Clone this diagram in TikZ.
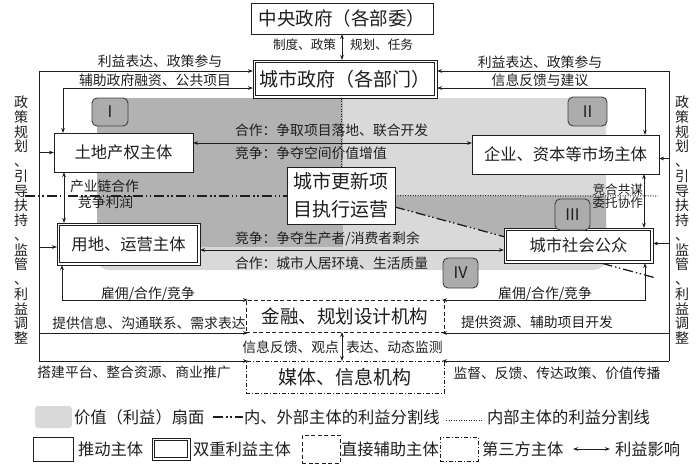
\documentclass[tikz,border=0pt]{standalone}
\usepackage{fontspec}
\setmainfont{Noto Sans CJK SC}
\usetikzlibrary{arrows.meta,calc,backgrounds}
\newcommand\myfs[1]{\fontsize{#1pt}{#1pt}\selectfont}
\definecolor{fanlight}{RGB}{217,217,217}
\definecolor{fandark}{RGB}{178,178,178}
\definecolor{numfill}{RGB}{172,172,172}
\definecolor{ink}{RGB}{30,30,30}
\begin{document}
\begin{tikzpicture}[x=1pt,y=-1pt,
  every node/.style={inner sep=0pt,outer sep=0pt,text=ink},
  >={Stealth[length=5pt,width=3.6pt]},
  lbl/.style={font={\myfs{13.8}}},
  slbl/.style={font={\myfs{12.6}}},
  lgtxt/.style={font={\myfs{16.3}}},
  vlbl/.style={align=center,font={\fontsize{14pt}{14.75pt}\selectfont}},
  bx/.style={draw=ink,line width=1pt,fill=white},
  dbx/.style={draw=ink,line width=0.9pt,fill=white,
    path picture={\draw[ink,line width=0.8pt]
      ([xshift=2.4pt,yshift=-2.4pt]path picture bounding box.north west) rectangle
      ([xshift=-2.4pt,yshift=2.4pt]path picture bounding box.south east);}},
  dshbx/.style={draw=ink,line width=0.9pt,dash pattern=on 4pt off 2.5pt,fill=white},
  ddbx/.style={draw=ink,line width=0.9pt,dash pattern=on 4pt off 2pt on 1pt off 2pt,fill=white},
  numbx/.style={draw=ink!85,line width=0.9pt,fill=numfill,rounded corners=5pt,font={\myfs{16}}},
  conn/.style={draw=ink,line width=0.9pt},
  divline/.style={draw=ink,line width=1.3pt,dash pattern=on 10pt off 3pt on 1.5pt off 2.5pt on 1.5pt off 3pt},
  dotline/.style={draw=ink,line width=1pt,dash pattern=on 1pt off 1.5pt}
]
\useasboundingbox (0,0) rectangle (700,469);

% ---------- main boxes ----------
\node[bx,minimum width=182pt,minimum height=31pt,font={\myfs{18.5}}] (cgov) at (342,18.5) {中央政府（各部委）};
\node[dbx,minimum width=184pt,minimum height=38pt,font={\myfs{19}}] (city) at (345,79) {城市政府（各部门）};
\node[bx,minimum width=139pt,minimum height=39pt,font={\myfs{16.3}}] (land) at (123.5,152.5) {土地产权主体};
\node[bx,minimum width=187pt,minimum height=39pt,font={\myfs{16.3}}] (ent) at (565.5,154.5) {企业、资本等市场主体};
\node[bx,minimum width=108pt,minimum height=57pt,align=center,font={\fontsize{19pt}{28pt}\selectfont}] (upd) at (341,195.5) {城市更新项\\目执行运营};
\node[dbx,minimum width=143pt,minimum height=42pt,font={\myfs{16.3}}] (use) at (128.5,244) {用地、运营主体};
\node[dbx,minimum width=149pt,minimum height=35pt,font={\myfs{16.3}}] (pub) at (578.5,245.5) {城市社会公众};
\node[dshbx,minimum width=198pt,minimum height=32pt,font={\myfs{18.5}}] (fin) at (345,316) {金融、规划设计机构};
\node[ddbx,minimum width=198pt,minimum height=32pt,font={\myfs{19}}] (med) at (345,377) {媒体、信息机构};

% ---------- quadrant labels ----------
\node[numbx,minimum width=36pt,minimum height=28pt] (n1) at (110,112) {I};
\node[numbx,minimum width=39pt,minimum height=29pt] (n2) at (587.5,111.5) {II};
\node[numbx,minimum width=35pt,minimum height=31pt] (n3) at (572.5,214.5) {III};
\node[numbx,minimum width=35pt,minimum height=30pt] (n4) at (460.5,273) {IV};

% ---------- free ends ----------
\coordinate (LT) at (39,71);
\coordinate (LB) at (39,361);
\coordinate (RT) at (669,71);
\coordinate (RB) at (669,361);
\coordinate (DL) at (25,196);
\coordinate (DR) at (656,278);
\coordinate (DO) at (658,196);

% ---------- fan (background) ----------
\begin{pgfonlayer}{background}
  \fill[fanlight] (97,98) rectangle (606,160);
  \fill[fanlight,rounded corners=12pt] (97,98) rectangle (606,270);
  \fill[fandark] (97,98) rectangle (343,247);
  \fill[fandark] (395,196) -- (606,196) -- (606,228) -- (504,228) -- (504,236) -- (395,207) -- cycle;
  \draw[divline] (DL) -- (DL -| upd.west);
  \draw[divline] ([yshift=-11.5pt]upd.east) -- (DR);
  \draw[dotline] (upd.east) -- (DO);
  \draw[dotline] (upd.north) -- (upd.north |- city.south);
\end{pgfonlayer}

% ---------- connectors ----------
\draw[conn,<->] (cgov.south) -- (cgov.south |- city.north);
\draw[conn] (LB) -- (LT);
\draw[conn,->] (LT) -- (LT -| city.west);
\draw[conn] (RB) -- (RT);
\draw[conn,->] (RT) -- (RT -| city.east);
\draw[conn,->] (LT |- land.west) -- (land.west);
\draw[conn,->] ([yshift=-3pt]LT |- use.west) -- ([yshift=-3pt]use.west);
\draw[conn,->] ([yshift=-4pt]RT |- ent.east) -- ([yshift=-4pt]ent.east);
\draw[conn,->] ([yshift=2pt]RT |- pub.east) -- ([yshift=2pt]pub.east);
\draw[conn,->] ([yshift=-1pt]LT |- fin.south west) -- ([yshift=-1pt,xshift=2pt]fin.south west);
\draw[conn,->] (LB) -- ([xshift=2pt]LB -| med.west);
\draw[conn,->] ([yshift=-1pt]RT |- fin.south east) -- ([yshift=-1pt,xshift=-2pt]fin.south east);
\draw[conn,->] (RB) -- ([xshift=-2pt]RB -| med.east);
\draw[conn,<->] ([yshift=10pt]city.south west) -| ([xshift=9pt]land.north west);
\draw[conn,<->] ([yshift=10pt]city.south east) -| ([xshift=-14pt]ent.north east);
\draw[conn,<->] ([yshift=9.5pt]land.east) -- ([yshift=9.5pt]land.east -| ent.west);
\draw[conn,<->] ([yshift=-6pt]use.east) -- ([yshift=-6pt]use.east -| pub.west);
\draw[conn,<->] ([xshift=10pt]land.south west) -- ([xshift=10pt]land.south west |- use.north);
\draw[conn,<->] ([xshift=-15pt]ent.south east) -- ([xshift=-15pt]ent.south east |- pub.north);
\draw[conn,<->] ([xshift=5pt]use.south west) |- ([xshift=2pt]fin.north west);
\draw[conn,<->] ([xshift=-8pt]pub.south east) |- ([xshift=-2pt]fin.north east);
\draw[conn,<->] ([xshift=-3pt]fin.south) -- ([xshift=-3pt]med.north);

% ---------- labels ----------
\node[slbl,anchor=east] at (336,45) {制度、政策};
\node[slbl,anchor=west] at (350,45) {规划、任务};
\node[lbl] at (160,61) {利益表达、政策参与};
\node[lbl] at (155,80) {辅助政府融资、公共项目};
\node[lbl] at (540,62) {利益表达、政策参与};
\node[lbl] at (540,80) {信息反馈与建议};
\node[lbl,anchor=west] at (235,130) {合作：争取项目落地、联合开发};
\node[lbl,anchor=west] at (235,153) {竞争：争夺空间价值增值};
\node[lbl,anchor=west] at (235,239) {竞争：争夺生产者/消费者剩余};
\node[lbl,anchor=west] at (235,263) {合作：城市人居环境、生活质量};
\node[lbl,anchor=west] at (70,186) {产业链合作};
\node[lbl,anchor=west] at (78,202) {竞争利润};
\node[slbl,anchor=east] at (643,190) {竞合共谋};
\node[slbl,anchor=east] at (643,203) {委托协作};
\node[lbl] at (148,294) {雇佣/合作/竞争};
\node[lbl] at (545,294) {雇佣/合作/竞争};
\node[lbl] at (149,323) {提供信息、沟通联系、需求表达};
\node[lbl] at (537,322) {提供资源、辅助项目开发};
\node[lbl] at (134,372) {搭建平台、整合资源、商业推广};
\node[lbl] at (557,373) {监督、反馈、传达政策、价值传播};
\node[lbl,anchor=east] at (339,347) {信息反馈、观点};
\node[lbl,anchor=west] at (346,347) {表达、动态监测};
\node[vlbl] at (21,220) {政\\策\\规\\划\\、\\引\\导\\扶\\持\\、\\监\\管\\、\\利\\益\\调\\整};
\node[vlbl] at (682,220) {政\\策\\规\\划\\、\\引\\导\\扶\\持\\、\\监\\管\\、\\利\\益\\调\\整};

% ---------- legend ----------
\node[fill=fanlight,rounded corners=3pt,minimum width=37pt,minimum height=22pt] (lg1) at (53.5,417) {};
\node[lgtxt,anchor=west] at (74,417) {价值（利益）扇面};
\coordinate (ls1) at (213,417);
\coordinate (ls2) at (243,417);
\draw[divline] (ls1) -- (ls2);
\node[lgtxt,anchor=west] at (244,417) {内、外部主体的利益分割线};
\coordinate (ls3) at (446,420);
\coordinate (ls4) at (483,420);
\draw[dotline] (ls3) -- (ls4);
\node[lgtxt,anchor=west] at (487,417) {内部主体的利益分割线};

\node[bx,minimum width=40pt,minimum height=24pt] (lg2) at (53,449) {};
\node[lgtxt,anchor=west] at (78,449) {推动主体};
\node[dbx,minimum width=38pt,minimum height=22pt] (lg3) at (171,449) {};
\node[lgtxt,anchor=west] at (193,449) {双重利益主体};
\node[dshbx,minimum width=38pt,minimum height=28pt] (lg4) at (321,449) {};
\node[lgtxt,anchor=west] at (341,449) {直接辅助主体};
\node[ddbx,minimum width=38pt,minimum height=24pt] (lg5) at (459,449) {};
\node[lgtxt,anchor=west] at (482,449) {第三方主体};
\coordinate (la1) at (573,449);
\coordinate (la2) at (610,449);
\draw[conn,<->] (la1) -- (la2);
\node[lgtxt,anchor=west] at (615,449) {利益影响};
\end{tikzpicture}
\end{document}
